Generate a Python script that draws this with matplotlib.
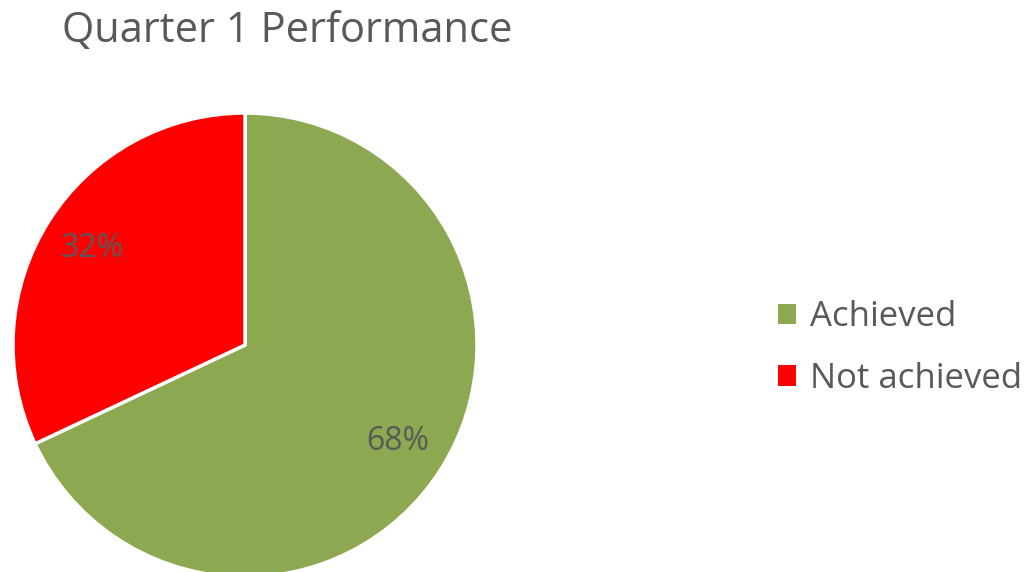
import matplotlib
matplotlib.use("Agg")
from matplotlib import pyplot as plt

# 数据
labels = ["Achieved", "Not achieved"]
values = [68, 32]
colors = ["#8CA850", "#FF0000"]
title = "Quarter 1 Performance"

plt.rcParams['font.family'] = ['Open Sans', 'DejaVu Sans']
text_color = "#595959"

fig = plt.figure(figsize=(10.30, 5.72), dpi=100)
# 饼图位置：中心约(245,345)像素，半径约232像素
ax = fig.add_axes([13/1030, -5/572, 464/1030, 464/572])
wedges, texts, autotexts = ax.pie(values, colors=colors, startangle=90, counterclock=False,
                                  autopct='%1.0f%%', pctdistance=0.78, radius=1,
                                  wedgeprops={"edgecolor": "white", "linewidth": 2.5},
                                  textprops={"color": text_color, "fontsize": 23})
ax.set_xlim(-1.0, 1.0)
ax.set_ylim(-1.0, 1.0)
ax.set_aspect('equal')

fig.text(62/1030, 1 - 31/572, title, fontsize=30, color=text_color, va='center', ha='left')

# 图例用无边框方块
handles = [plt.Rectangle((0, 0), 1, 1, facecolor=c, edgecolor='none') for c in colors]
leg = fig.legend(handles, labels, loc='center left', bbox_to_anchor=(747/1030, 1 - 348/572),
                 frameon=False, fontsize=25, handlelength=0.52, handleheight=0.52,
                 handletextpad=0.4, labelspacing=0.79)
for t in leg.get_texts():
    t.set_color(text_color)

plt.savefig("out.png", dpi=100)
